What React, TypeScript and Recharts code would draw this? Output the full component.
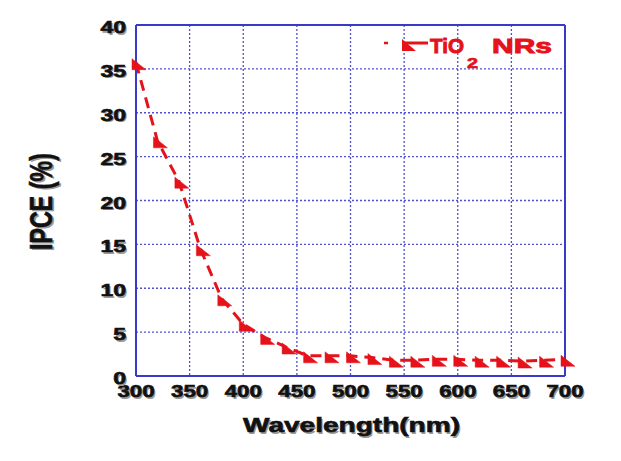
import React from 'react';
import { LineChart, Line, XAxis, YAxis, CartesianGrid, ReferenceLine, Label } from 'recharts';

const wavelengths = [300, 320, 340, 360, 380, 400, 420, 440, 460, 480, 500, 520, 540, 560, 580, 600, 620, 640, 660, 680, 700];
const ipceValues = [35.7, 26.8, 22.2, 14.5, 8.8, 5.9, 4.4, 3.3, 2.3, 2.3, 2.3, 2.1, 1.8, 1.8, 1.9, 1.9, 1.8, 1.8, 1.7, 1.8, 1.9];
const xTicks = [300, 350, 400, 450, 500, 550, 600, 650, 700];
const yTicks = [0, 5, 10, 15, 20, 25, 30, 35, 40];
const seriesName = 'TiO';
const seriesSub = '2';
const seriesSuffix = 'NRs';
const xLabel = 'Wavelength(nm)';
const yLabel = 'IPCE (%)';

const data = wavelengths.map((w, i) => ({ w, v: ipceValues[i] }));

const W = 613;
const H = 453;
const RED = '#e5121b';
const BLUE = '#3a3ac8';
const GRID = '#5050d0';
const FONT = '"Liberation Sans", Arial, sans-serif';

const XTick = (props: any) => {
  const { x, payload } = props;
  const s = String(payload.value);
  const len = s.length * 12.4;
  const y = 389;
  return (
    <g>
      <text x={x + 1.5} y={y + 1.5} textAnchor="middle" fontFamily={FONT} fontWeight="bold" fontSize={16} fill="#9a9a9a" textLength={len} lengthAdjust="spacingAndGlyphs">{s}</text>
      <text x={x} y={y} textAnchor="middle" fontFamily={FONT} fontWeight="bold" fontSize={16} fill="#111" stroke="#111" strokeWidth={0.6} textLength={len} lengthAdjust="spacingAndGlyphs">{s}</text>
    </g>
  );
};

const YTick = (props: any) => {
  const { y, payload } = props;
  const s = String(payload.value);
  const len = s.length * 12.8;
  const x = 118;
  const by = y + 8;
  return (
    <g>
      <text x={x + 1.5} y={by + 1.5} textAnchor="end" fontFamily={FONT} fontWeight="bold" fontSize={16} fill="#9a9a9a" textLength={len} lengthAdjust="spacingAndGlyphs">{s}</text>
      <text x={x} y={by} textAnchor="end" fontFamily={FONT} fontWeight="bold" fontSize={16} fill="#111" stroke="#111" strokeWidth={0.6} textLength={len} lengthAdjust="spacingAndGlyphs">{s}</text>
    </g>
  );
};

const Marker = (props: any) => {
  const { cx, cy, index } = props;
  if (cx == null || cy == null) return <g key={index} />;
  const pts = `${cx - 4},${cy - 4} ${cx - 4},${cy + 7} ${cx + 10},${cy + 7}`;
  return <polygon key={index} points={pts} fill={RED} stroke={RED} strokeWidth={0.5} />;
};

const XLabelContent = (props: any) => {
  const vb = props.viewBox || { x: 128, y: 368, width: 429, height: 85 };
  const cx = vb.x + vb.width / 2 + 1;
  const by = vb.y + 56;
  return (
    <g>
      <text x={cx + 1.5} y={by + 1.5} textAnchor="middle" fontFamily={FONT} fontWeight="bold" fontSize={20} fill="#9a9a9a" textLength={217} lengthAdjust="spacingAndGlyphs">{xLabel}</text>
      <text x={cx} y={by} textAnchor="middle" fontFamily={FONT} fontWeight="bold" fontSize={20} fill="#111" stroke="#111" strokeWidth={0.6} textLength={217} lengthAdjust="spacingAndGlyphs">{xLabel}</text>
    </g>
  );
};

const YLabelContent = (props: any) => {
  const vb = props.viewBox || { x: 0, y: 17, width: 128, height: 351 };
  const cy = vb.y + vb.height / 2 + 1;
  const cx = 33;
  return (
    <g>
      <g transform={`translate(${cx + 1.5},${cy + 1.5}) scale(1.4,1) rotate(-90)`}>
        <text x={0} y={8} textAnchor="middle" fontFamily={FONT} fontWeight="bold" fontSize={22} fill="#9a9a9a" textLength={97} lengthAdjust="spacingAndGlyphs">{yLabel}</text>
      </g>
      <g transform={`translate(${cx},${cy}) scale(1.4,1) rotate(-90)`}>
        <text x={0} y={8} textAnchor="middle" fontFamily={FONT} fontWeight="bold" fontSize={22} fill="#111" stroke="#111" strokeWidth={0.4} textLength={97} lengthAdjust="spacingAndGlyphs">{yLabel}</text>
      </g>
    </g>
  );
};

const LegendOverlay = () => (
  <svg width={W} height={H} style={{ position: 'absolute', left: 0, top: 0, pointerEvents: 'none' }}>
    <line x1={376} y1={35} x2={380} y2={35} stroke={RED} strokeWidth={2.5} />
    <polygon points="394,31 394,43 408,43" fill={RED} />
    <line x1={394} y1={35} x2={420} y2={35} stroke={RED} strokeWidth={3} />
    <text x={422} y={45} fontFamily={FONT} fontWeight="bold" fontSize={21} fill={RED} stroke={RED} strokeWidth={0.9} textLength={34} lengthAdjust="spacingAndGlyphs">{seriesName}</text>
    <text x={459} y={60} fontFamily={FONT} fontWeight="bold" fontSize={15} fill={RED} stroke={RED} strokeWidth={0.7} textLength={11} lengthAdjust="spacingAndGlyphs">{seriesSub}</text>
    <text x={484} y={45} fontFamily={FONT} fontWeight="bold" fontSize={21} fill={RED} stroke={RED} strokeWidth={0.9} textLength={60} lengthAdjust="spacingAndGlyphs">{seriesSuffix}</text>
  </svg>
);

export default function App() {
  return (
    <div style={{ position: 'relative', width: W, height: H, background: '#fff' }}>
      <LineChart width={W} height={H} data={data} margin={{ top: 17, right: 56, left: 0, bottom: 0 }}>
        <CartesianGrid stroke={GRID} strokeDasharray="2 2" strokeWidth={1.3} verticalValues={xTicks} horizontalValues={yTicks} />
        <XAxis
          dataKey="w"
          type="number"
          domain={[300, 700]}
          ticks={xTicks}
          height={85}
          tickLine={false}
          axisLine={{ stroke: BLUE, strokeWidth: 2 }}
          tick={<XTick />}
          interval={0}
        >
          <Label content={<XLabelContent />} />
        </XAxis>
        <YAxis
          type="number"
          domain={[0, 40]}
          ticks={yTicks}
          width={128}
          tickLine={false}
          axisLine={{ stroke: BLUE, strokeWidth: 2 }}
          tick={<YTick />}
          interval={0}
        >
          <Label content={<YLabelContent />} />
        </YAxis>
        <ReferenceLine y={40} stroke={BLUE} strokeWidth={2} />
        <ReferenceLine x={700} stroke={BLUE} strokeWidth={2} />
        <Line
          type="linear"
          dataKey="v"
          stroke={RED}
          strokeWidth={3}
          strokeDasharray="11 7"
          dot={(p: any) => <Marker key={p.index} {...p} />}
          activeDot={false}
          isAnimationActive={false}
        />
      </LineChart>
      <LegendOverlay />
    </div>
  );
}
